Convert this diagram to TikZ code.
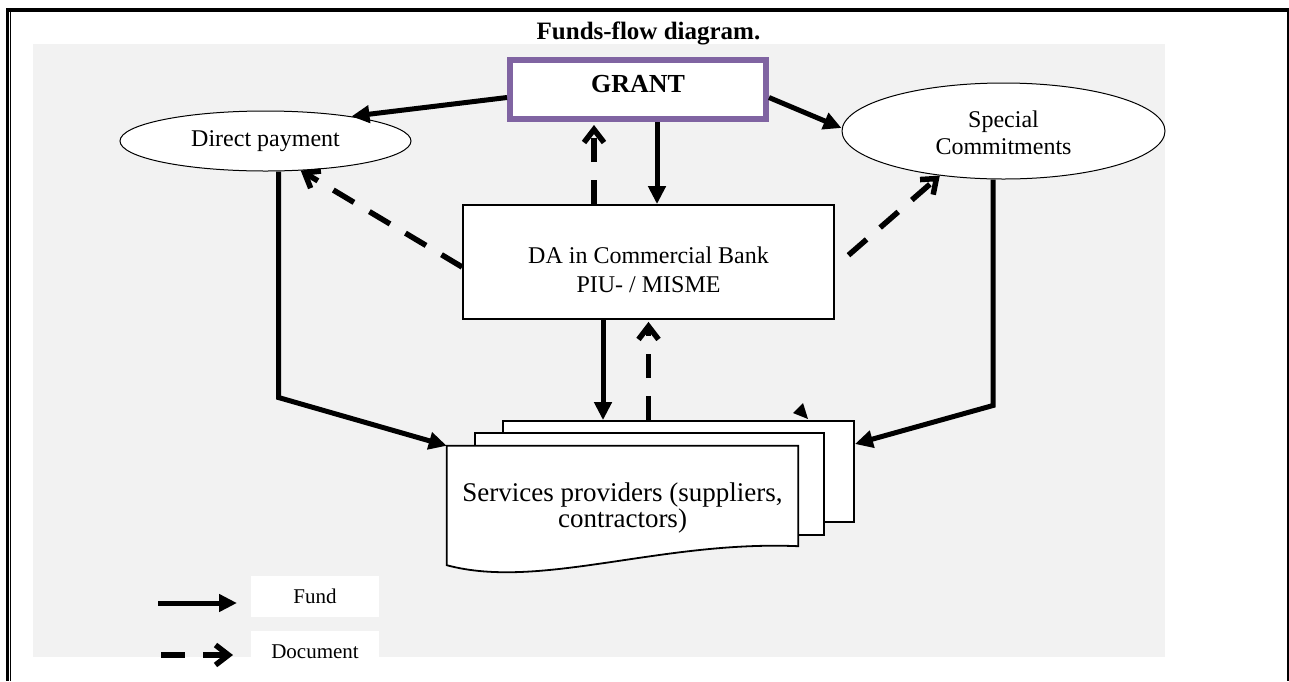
\documentclass[tikz,border=0pt]{standalone}
\usepackage{fontspec}
\setmainfont{Liberation Serif}
\usetikzlibrary{shapes.geometric,arrows.meta}
\definecolor{bggray}{HTML}{F2F2F2}
\definecolor{grantpurple}{HTML}{8064A2}
\tikzset{
  fundarrow/.style={line width=5pt, -{Triangle[length=18pt,width=17pt]}},
  docarrow/.style={line width=5.5pt, dash pattern=on 24pt off 18pt, -{Straight Barb[length=13pt,width=20pt]}},
  ellnode/.style={ellipse, draw, line width=1pt, fill=white, inner sep=0pt, align=center, font=\fontsize{24}{27}\selectfont},
  boxnode/.style={rectangle, draw, line width=1.8pt, fill=white, inner sep=0pt, align=center, font=\fontsize{24}{29}\selectfont},
  docline/.style={draw, line width=1.8pt, fill=white},
  legendbox/.style={rectangle, fill=white, inner sep=0pt, minimum width=128pt, minimum height=41pt, font=\fontsize{21}{25}\selectfont}
}
\begin{document}
\begin{tikzpicture}[x=1pt,y=-1pt]
\useasboundingbox (0,0) rectangle (1289,681);
% background
\fill[bggray] (33,44) rectangle (1165,657);
% page border
\draw[line width=4pt] (6,10) -- (1290,10);
\draw[line width=3pt] (7.5,8) -- (7.5,681);
\draw[line width=1.2pt] (10.6,10) -- (10.6,681);
\draw[line width=3pt] (1288.5,8) -- (1288.5,681);
% title
\node[anchor=base, font=\bfseries\fontsize{25}{30}\selectfont] (title) at (648.5,39) {Funds-flow diagram.};
% nodes
\node[rectangle, draw=grantpurple, line width=6pt, fill=white, minimum width=256pt, minimum height=59pt, text depth=12pt, font=\bfseries\fontsize{26}{30}\selectfont] (grant) at (638,89.5) {GRANT};
\node[ellnode, minimum width=291pt, minimum height=60pt] (dp) at (265.5,141) {Direct payment};
\node[ellnode, minimum width=323pt, minimum height=96pt] (sc) at (1003.5,131) {\rule{0pt}{21pt}Special\\Commitments};
\node[boxnode, minimum width=371pt, minimum height=114pt] (da) at (648.5,262) {\rule{0pt}{31.4pt}DA in Commercial Bank\\PIU- / MISME};
% services providers (stack of documents)
\node[docline, rectangle, inner sep=0pt, minimum width=351pt, minimum height=101pt] (sp3) at (678.5,471.5) {};
\node[docline, rectangle, inner sep=0pt, minimum width=349pt, minimum height=102pt] (sp2) at (649.5,484) {};
\path (622.5,505.5) node[rectangle, inner sep=0pt, minimum width=351pt, minimum height=119pt] (sp) {};
\draw[docline] (sp.north west) -- (sp.north east) -- ([yshift=19pt]sp.south east)
  .. controls ([xshift=-138pt,yshift=25pt]sp.south east) and ([xshift=93pt,yshift=-25pt]sp.south west) .. (sp.south west) -- cycle;
\node[align=center, font=\fontsize{27}{24}\selectfont] (sptext) at (sp.center) {\rule{0pt}{23.7pt}Services providers (suppliers,\\contractors)};
% stray arrowhead
\fill (793,413) -- (803,403) -- (808,419) -- cycle;
% fund connectors
\draw[fundarrow] ([yshift=-8pt]grant.west) -- (dp.16);
\draw[fundarrow] ([yshift=-8pt]grant.east) -- ([yshift=3pt]sc.west);
\draw[fundarrow] ([xshift=19pt]grant.south) -- ([xshift=19pt]grant.south |- da.north);
\draw[fundarrow] ([xshift=-45.5pt]da.south) -- ([xshift=-45.5pt]da.south |- sp3.north);
\draw[fundarrow, line join=miter] ([xshift=13pt]dp.south) -- ++(0,226) -- (sp.north west);
\draw[fundarrow, line join=miter] ([xshift=-10.5pt]sc.south) -- ++(0,226) -- ([yshift=27.5pt]sp3.east);
% document connectors
\draw[docarrow, shorten >=3pt] ([xshift=-54.5pt]da.north) -- ([xshift=-54.5pt]da.north |- grant.south);
\draw[docarrow] ([yshift=-5pt]da.west) -- (dp.-40);
\draw[docarrow, dash phase=24pt] ([yshift=-5pt]da.east) -- (sc.-145);
\draw[docarrow, shorten >=2pt] (da.south |- sp3.north) -- (da.south);
% legend
\coordinate (f1) at (158,603);
\coordinate (f2) at (237,603);
\draw[fundarrow] (f1) -- (f2);
\node[legendbox] (fundlbl) at (315,596.5) {Fund};
\coordinate (d1) at (161,655);
\coordinate (d2) at (233,655);
\draw[docarrow] (d1) -- (d2);
\node[legendbox] (doclbl) at (315,651.5) {Document};
\end{tikzpicture}
\end{document}
